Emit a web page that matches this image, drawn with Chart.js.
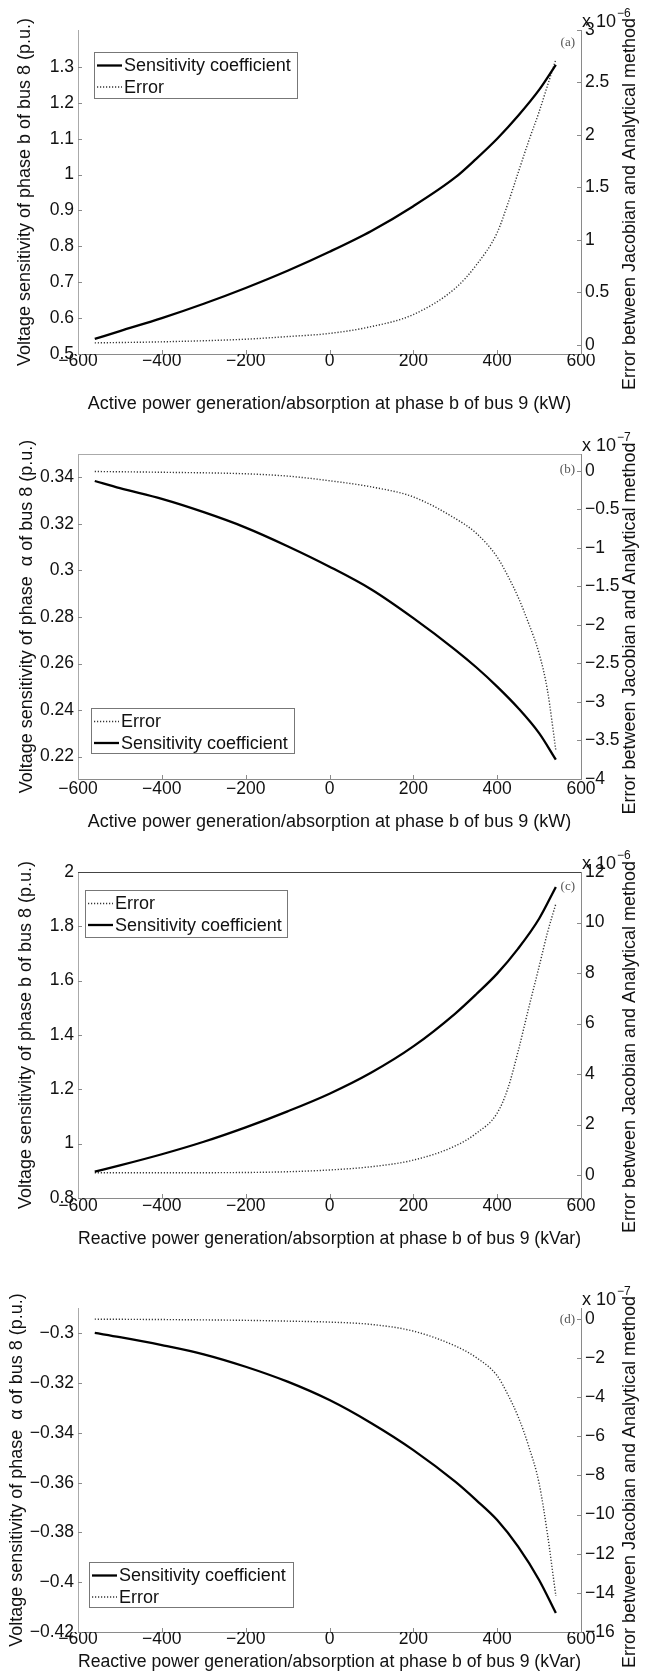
<!DOCTYPE html>
<html>
<head>
<meta charset="utf-8">
<title>Voltage sensitivity vs. Jacobian error</title>
<script src="https://cdn.jsdelivr.net/npm/chart.js@4.4.1/dist/chart.umd.min.js"></script>
<style>
    body { margin: 0; background: #fff; }
    #wrap { position: relative; width: 658px; height: 1673px; }
    #wrap canvas { position: absolute; left: 0; }
</style>
</head>
<body>
<div id="wrap">
    <canvas id="chart-a" width="658" height="420" style="top:0px"></canvas>
    <canvas id="chart-b" width="658" height="420" style="top:420px"></canvas>
    <canvas id="chart-c" width="658" height="415" style="top:840px"></canvas>
    <canvas id="chart-d" width="658" height="418" style="top:1255px"></canvas>
</div>
<script>
/* =============================================
   Data
   ============================================= */

// generation/absorption at phase b of bus 9 (kW or kVar)
const xSens = [-560, -500, -400, -300, -200, -100, 0, 100, 200, 300, 350, 400, 450, 500, 540];
const xErr = [-560, -400, -200, -100, 0, 100, 200, 300, 350, 400, 425, 450, 475, 500, 520, 540];
const xTicks = [-600, -400, -200, 0, 200, 400, 600];

// (a) active power -> phase b of bus 8
const sensA = [0.542, 0.564, 0.600, 0.640, 0.684, 0.732, 0.785, 0.843, 0.912, 0.992, 1.044, 1.100, 1.164, 1.236, 1.306];
const errA = [0.02, 0.03, 0.055, 0.08, 0.11, 0.175, 0.29, 0.54, 0.76, 1.07, 1.34, 1.64, 1.94, 2.22, 2.47, 2.72];     // x 1e-6
const leftTicksA = [0.5, 0.6, 0.7, 0.8, 0.9, 1, 1.1, 1.2, 1.3];
const rightTicksA = [0, 0.5, 1, 1.5, 2, 2.5, 3];

// (b) active power -> phase angle of bus 8
const sensB = [0.3384, 0.3353, 0.3307, 0.3250, 0.3184, 0.3104, 0.3016, 0.2918, 0.2795, 0.2659, 0.2584, 0.2501, 0.2409, 0.2301, 0.2187];
const errB = [-0.01, -0.02, -0.04, -0.07, -0.13, -0.21, -0.34, -0.62, -0.81, -1.12, -1.36, -1.64, -1.98, -2.37, -2.85, -3.63];   // x 1e-7
const leftTicksB = [0.22, 0.24, 0.26, 0.28, 0.3, 0.32, 0.34];
const rightTicksB = [-4, -3.5, -3, -2.5, -2, -1.5, -1, -0.5, 0];

// (c) reactive power -> phase b of bus 8
const sensC = [0.897, 0.920, 0.961, 1.007, 1.060, 1.119, 1.184, 1.262, 1.358, 1.479, 1.550, 1.626, 1.718, 1.828, 1.945];
const errC = [0.09, 0.09, 0.1, 0.13, 0.2, 0.33, 0.59, 1.15, 1.65, 2.45, 3.4, 4.9, 6.6, 8.25, 9.6, 10.74];   // x 1e-6
const leftTicksC = [0.8, 1, 1.2, 1.4, 1.6, 1.8, 2];
const rightTicksC = [0, 2, 4, 6, 8, 10, 12];

// (d) reactive power -> phase angle of bus 8
const sensD = [-0.2998, -0.3015, -0.3047, -0.3084, -0.3134, -0.3194, -0.3268, -0.3361, -0.3469, -0.3596, -0.3670, -0.3750, -0.3857, -0.3991, -0.4124];
const errD = [-0.02, -0.04, -0.08, -0.12, -0.17, -0.29, -0.63, -1.39, -1.98, -2.91, -3.85, -5.0, -6.5, -8.4, -11.0, -14.16];  // x 1e-7
const leftTicksD = [-0.42, -0.4, -0.38, -0.36, -0.34, -0.32, -0.3];
const rightTicksD = [-16, -14, -12, -10, -8, -6, -4, -2, 0];

const seriesLabels = ['Sensitivity coefficient', 'Error'];
const activeTitle = 'Active power generation/absorption at phase b of bus 9 (kW)';
const reactiveTitle = 'Reactive power generation/absorption at phase b of bus 9 (kVar)';
const phaseBTitle = 'Voltage sensitivity of phase b of bus 8 (p.u.)';
const phaseAngleTitle = 'Voltage sensitivity of phase  \u03b1 of bus 8 (p.u.)';
const errorTitle = 'Error between Jacobian and Analytical method';

/* =============================================
   Styling helpers
   ============================================= */

const FONT = "'Liberation Sans', Arial, Helvetica, sans-serif";
const TEXT = '#111';
const AXIS = '#8a8a8a';

const fmt = v => String(Math.round(v * 10000) / 10000).replace('-', '\u2212');
const setTicks = list => scale => { scale.ticks = list.map(v => ({ value: v })); };

// MATLAB-ish extras: inward ticks, boxed legend, exponent, panel tag, right title
const paperAxes = {
    id: 'paperAxes',
    afterDraw(chart, args, opts) {
        const { ctx, chartArea: a, scales } = chart;
        ctx.save();

        ctx.strokeStyle = AXIS;
        ctx.lineWidth = 1;
        ctx.beginPath();
        scales.x.ticks.forEach(t => {
            const px = Math.round(scales.x.getPixelForValue(t.value)) + 0.5;
            if (px <= a.left + 2 || px >= a.right - 2) return;
            ctx.moveTo(px, a.bottom);
            ctx.lineTo(px, a.bottom - 4);
        });
        scales.y.ticks.forEach(t => {
            const py = Math.round(scales.y.getPixelForValue(t.value)) + 0.5;
            ctx.moveTo(a.left, py);
            ctx.lineTo(a.left + 4, py);
        });
        scales.y2.ticks.forEach(t => {
            const py = Math.round(scales.y2.getPixelForValue(t.value)) + 0.5;
            ctx.moveTo(a.right, py);
            ctx.lineTo(a.right - 4, py);
        });
        ctx.stroke();

        if (opts.topBorder) {
            ctx.strokeStyle = opts.topBorder;
            ctx.beginPath();
            ctx.moveTo(a.left, Math.round(a.top) + 0.5);
            ctx.lineTo(a.right, Math.round(a.top) + 0.5);
            ctx.stroke();
        }

        // legend box
        const lg = opts.legend;
        ctx.fillStyle = '#fff';
        ctx.fillRect(lg.x, lg.y, lg.w, lg.h);
        ctx.strokeStyle = '#777';
        ctx.strokeRect(lg.x + 0.5, lg.y + 0.5, lg.w, lg.h);
        ctx.font = `18px ${FONT}`;
        ctx.textBaseline = 'middle';
        ctx.textAlign = 'left';
        lg.order.forEach((di, row) => {
            const ds = chart.data.datasets[di];
            const cy = lg.y + 13.5 + row * 21.5;
            ctx.save();
            ctx.strokeStyle = ds.borderColor;
            ctx.lineWidth = ds.borderWidth;
            ctx.setLineDash(ds.borderDash || []);
            ctx.beginPath();
            ctx.moveTo(lg.x + 3, cy);
            ctx.lineTo(lg.x + 28, cy);
            ctx.stroke();
            ctx.restore();
            ctx.fillStyle = TEXT;
            ctx.fillText(ds.label, lg.x + 30, cy + 1);
        });

        // x 10^n
        ctx.fillStyle = TEXT;
        ctx.textBaseline = 'alphabetic';
        ctx.font = `18px ${FONT}`;
        ctx.fillText('x 10', a.right + 1, a.top - 3);
        const w = ctx.measureText('x 10').width;
        ctx.font = `12px ${FONT}`;
        ctx.fillText(opts.exponent, a.right + 2 + w, a.top - 13);

        // panel tag
        ctx.font = "13px 'Liberation Serif', 'DejaVu Serif', serif";
        ctx.fillStyle = '#555';
        ctx.textAlign = 'right';
        ctx.textBaseline = 'middle';
        ctx.fillText(opts.tag, a.right - 6, a.top + opts.tagDy);

        // right axis title (reads bottom to top, like the left one)
        ctx.translate(634.5, (a.top + a.bottom) / 2 + 12);
        ctx.rotate(-Math.PI / 2);
        ctx.font = `18px ${FONT}`;
        ctx.fillStyle = TEXT;
        ctx.textAlign = 'center';
        ctx.textBaseline = 'alphabetic';
        ctx.fillText(errorTitle, 0, 0);

        ctx.restore();
    }
};

/* =============================================
   Panels
   ============================================= */

const panels = [
    {
        id: 'chart-a', sens: sensA, err: errA, leftTicks: leftTicksA, rightTicks: rightTicksA,
        yMin: 0.5, yMax: 1.403, y2Min: -0.086, y2Max: 3,
        xTitle: activeTitle, yTitle: phaseBTitle, yTitlePad: 14, exponent: '\u22126', tag: '(a)', tagDy: 13,
        padTop: 30, xAxisH: 66, xTickPad: -1.5, xTitlePad: 5, topBorder: null,
        legend: { x: 94, y: 52, w: 203, h: 46, order: [0, 1] }
    },
    {
        id: 'chart-b', sens: sensB, err: errB, leftTicks: leftTicksB, rightTicks: rightTicksB,
        yMin: 0.2104, yMax: 0.35, y2Min: -4, y2Max: 0.217,
        xTitle: activeTitle, yTitle: phaseAngleTitle, yTitlePad: 16.5, exponent: '\u22127', tag: '(b)', tagDy: 16,
        padTop: 34, xAxisH: 61, xTickPad: 1.5, xTitlePad: 7, topBorder: '#aaa',
        legend: { x: 91, y: 288, w: 203, h: 45, order: [1, 0] }
    },
    {
        id: 'chart-c', sens: sensC, err: errC, leftTicks: leftTicksC, rightTicks: rightTicksC,
        yMin: 0.8, yMax: 2, y2Min: -0.91, y2Max: 12,
        xTitle: reactiveTitle, yTitle: phaseBTitle, yTitlePad: 15, exponent: '\u22126', tag: '(c)', tagDy: 15,
        padTop: 32, xAxisH: 57, xTickPad: -1, xTitlePad: 5, topBorder: '#444',
        legend: { x: 85, y: 50, w: 202, h: 47, order: [1, 0] }
    },
    {
        id: 'chart-d', sens: sensD, err: errD, leftTicks: leftTicksD, rightTicks: rightTicksD,
        yMin: -0.42, yMax: -0.2898, y2Min: -16, y2Max: 0.55,
        xTitle: reactiveTitle, yTitle: phaseAngleTitle, yTitlePad: 6, exponent: '\u22127', tag: '(d)', tagDy: 12,
        padTop: 53, xAxisH: 41, xTickPad: -2, xTitlePad: 0, topBorder: null,
        legend: { x: 89, y: 307, w: 204, h: 45, order: [0, 1] }
    }
];

function buildPanel(p) {
    const canvas = document.getElementById(p.id);
    const tickFont = { family: FONT, size: 17.5, lineHeight: 1 };
    const titleFont = { family: FONT, size: 18, lineHeight: 1.2 };
    const noGrid = { display: false, drawTicks: false, drawOnChartArea: false };

    return new Chart(canvas.getContext('2d'), {
        type: 'line',
        data: {
            datasets: [
                {
                    label: seriesLabels[0],
                    data: xSens.map((x, i) => ({ x, y: p.sens[i] })),
                    yAxisID: 'y',
                    borderColor: '#000',
                    borderWidth: 2.3,
                    pointRadius: 0,
                    cubicInterpolationMode: 'monotone'
                },
                {
                    label: seriesLabels[1],
                    data: xErr.map((x, i) => ({ x, y: p.err[i] })),
                    yAxisID: 'y2',
                    borderColor: '#333',
                    borderWidth: 1.4,
                    borderDash: [1.2, 1.8],
                    pointRadius: 0,
                    cubicInterpolationMode: 'monotone'
                }
            ]
        },
        options: {
            responsive: false,
            animation: false,
            layout: { padding: { top: p.padTop, left: 0, right: 0, bottom: 0 } },
            plugins: {
                legend: { display: false },
                tooltip: { enabled: false },
                paperAxes: {
                    legend: p.legend, exponent: p.exponent, tag: p.tag,
                    tagDy: p.tagDy, topBorder: p.topBorder
                }
            },
            scales: {
                x: {
                    type: 'linear',
                    min: -600, max: 600,
                    afterBuildTicks: setTicks(xTicks),
                    afterFit: s => { s.height = p.xAxisH; },
                    grid: noGrid,
                    border: { display: true, color: AXIS, width: 1 },
                    ticks: { autoSkip: false, maxRotation: 0, padding: p.xTickPad, color: TEXT, font: tickFont, callback: fmt },
                    title: { display: true, text: p.xTitle, color: TEXT, font: titleFont, padding: { top: 0, bottom: p.xTitlePad } }
                },
                y: {
                    type: 'linear',
                    position: 'left',
                    min: p.yMin, max: p.yMax,
                    afterBuildTicks: setTicks(p.leftTicks),
                    afterFit: s => { s.width = 78; },
                    grid: noGrid,
                    border: { display: true, color: '#aaa', width: 1 },
                    ticks: { padding: 4, color: TEXT, font: tickFont, callback: fmt },
                    title: { display: true, text: p.yTitle, color: TEXT, font: titleFont, padding: { top: p.yTitlePad, bottom: 0 } }
                },
                y2: {
                    type: 'linear',
                    position: 'right',
                    min: p.y2Min, max: p.y2Max,
                    afterBuildTicks: setTicks(p.rightTicks),
                    afterFit: s => { s.width = 77; },
                    grid: noGrid,
                    border: { display: true, color: AXIS, width: 1 },
                    ticks: { padding: 4, color: TEXT, font: tickFont, callback: fmt }
                }
            }
        },
        plugins: [paperAxes]
    });
}

panels.forEach(buildPanel);
</script>
</body>
</html>
